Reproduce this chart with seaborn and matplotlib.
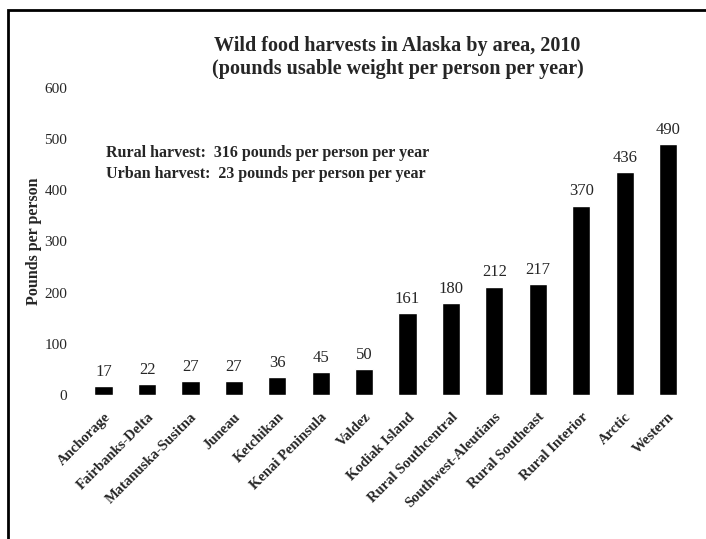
import matplotlib
matplotlib.use("Agg")
import matplotlib.pyplot as plt
import matplotlib.patches as mpatches
import pandas as pd
import seaborn as sns

# data
areas = ["Anchorage", "Fairbanks-Delta", "Matanuska-Susitna", "Juneau", "Ketchikan",
         "Kenai Peninsula", "Valdez", "Kodiak Island", "Rural Southcentral",
         "Southwest-Aleutians", "Rural Southeast", "Rural Interior", "Arctic", "Western"]
pounds = [17, 22, 27, 27, 36, 45, 50, 161, 180, 212, 217, 370, 436, 490]
yticks = [0, 100, 200, 300, 400, 500, 600]

df = pd.DataFrame({"area": areas, "pounds": pounds})

sns.set_style("white")
plt.rcParams["font.family"] = ["Liberation Serif", "DejaVu Serif"]

fig = plt.figure(figsize=(7.06, 5.39), dpi=100)
ax = fig.add_axes([0.116, 0.267, 0.861, 0.570])

sns.barplot(data=df, x="area", y="pounds", color="black", width=0.42,
            saturation=1, ax=ax)

for i, v in enumerate(pounds):
    ax.text(i, v + 12, str(v), ha="center", va="bottom", fontsize=12)

ax.set_ylim(0, 600)
ax.set_xlim(-0.5, len(areas) - 0.5)
ax.set_yticks(yticks)
ax.set_yticklabels([str(t) for t in yticks], fontsize=11)
ax.tick_params(axis="y", length=0, pad=10.5)
ax.tick_params(axis="x", length=0, pad=11)
ax.set_xticks(range(len(areas)))
ax.set_xticklabels(areas, rotation=45, ha="right", rotation_mode="anchor",
                   fontsize=10.5, fontweight="bold")
ax.set_xlabel("")
ax.set_ylabel("Pounds per person", fontsize=11.5, fontweight="bold", labelpad=2)
sns.despine(ax=ax, left=True, bottom=True)

ax.text(0.04, 0.788, "Rural harvest:  316 pounds per person per year",
        transform=ax.transAxes, fontsize=11.5, fontweight="bold", va="center")
ax.text(0.04, 0.72, "Urban harvest:  23 pounds per person per year",
        transform=ax.transAxes, fontsize=11.5, fontweight="bold", va="center")

fig.text(0.563, 0.893, "Wild food harvests in Alaska by area, 2010\n"
         "(pounds usable weight per person per year)",
         ha="center", va="center", fontsize=14.5, fontweight="bold", linespacing=1.2)

# frame around the figure (cut off right and bottom in the scan)
border = mpatches.Rectangle((8 / 706, -0.1), 1.2, 1.1 - 10 / 539,
                            transform=fig.transFigure, fill=False,
                            edgecolor="black", linewidth=2, clip_on=False)
fig.patches.append(border)

fig.savefig("out.png", dpi=100)
